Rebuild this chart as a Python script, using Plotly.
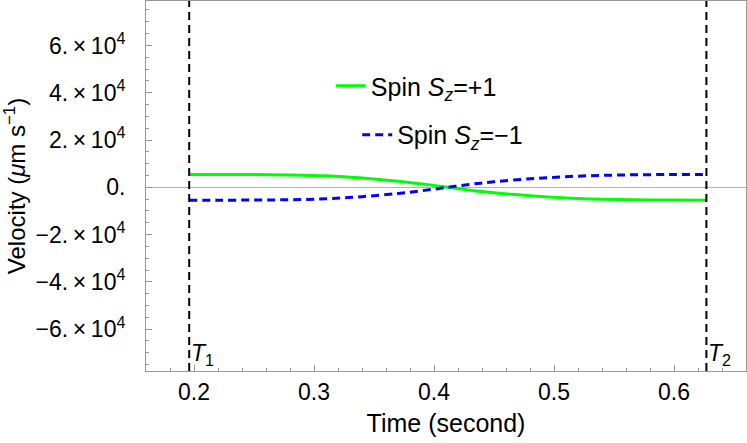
import plotly.graph_objects as go

# times (s) and velocities (um/s)
time = [0.196, 0.22, 0.25, 0.28, 0.31, 0.34, 0.37, 0.39, 0.41,
        0.43, 0.45, 0.48, 0.51, 0.54, 0.57, 0.60, 0.627]
v_up = [5450, 5440, 5400, 5250, 4850, 3950, 2600, 1450, 100,
        -1250, -2350, -3600, -4500, -5050, -5300, -5420, -5450]
v_down = [-5450, -5440, -5400, -5250, -4850, -3950, -2600, -1450, -100,
          1250, 2350, 3600, 4500, 5050, 5300, 5420, 5450]

T1 = 0.196
T2 = 0.627

xtick_vals = [0.2, 0.3, 0.4, 0.5, 0.6]
xtick_text = ['0.2', '0.3', '0.4', '0.5', '0.6']
ytick_vals = [-60000, -40000, -20000, 0, 20000, 40000, 60000]
ytick_text = ['−6.\u2009×\u200910<sup>4</sup>', '−4.\u2009×\u200910<sup>4</sup>',
              '−2.\u2009×\u200910<sup>4</sup>', '0.',
              '2.\u2009×\u200910<sup>4</sup>', '4.\u2009×\u200910<sup>4</sup>',
              '6.\u2009×\u200910<sup>4</sup>']

font = 'Liberation Sans, Arial, sans-serif'

fig = go.Figure()
fig.add_trace(go.Scatter(x=time, y=v_up, mode='lines', line=dict(color='#00ff00', width=3, shape='spline'),
                         name='Spin <i>S<sub>z</sub></i>=+1', legend='legend'))
fig.add_trace(go.Scatter(x=time, y=v_down, mode='lines',
                         line=dict(color='#0000ff', width=3, dash='8px,5px', shape='spline'),
                         name='Spin <i>S<sub>z</sub></i>=−1', legend='legend2'))

for t, lab in [(T1, '<i>T</i><sub>1</sub>'), (T2, '<i>T</i><sub>2</sub>')]:
    fig.add_vline(x=t, line=dict(color='black', width=2, dash='8px,5px'))
    fig.add_annotation(x=t, y=0.0, xref='x', yref='paper', text=lab, showarrow=False,
                       xanchor='left', yanchor='bottom', xshift=0,
                       font=dict(size=23, color='black', family=font))

axis_common = dict(showline=True, linecolor='#999999', linewidth=1, mirror=True,
                   showgrid=False, ticks='inside', ticklen=6, tickcolor='#999999',
                   automargin=False, tickfont=dict(size=23, color='black', family=font))

fig.update_layout(
    width=747, height=443,
    margin=dict(l=146, r=1, t=1, b=72),
    plot_bgcolor='white', paper_bgcolor='white',
    showlegend=True,
    font=dict(family=font, size=23, color='black'),
    xaxis=dict(range=[0.16, 0.66], tickvals=xtick_vals, ticktext=xtick_text,
               minor=dict(dtick=0.02, tick0=0.0, ticks='inside', ticklen=3, tickcolor='#999999'),
               title=dict(text='Time (second)', font=dict(size=25), standoff=10),
               ticklabelstandoff=0, zeroline=False, **axis_common),
    yaxis=dict(range=[-77700, 78800], tickvals=ytick_vals, ticktext=ytick_text,
               minor=dict(dtick=5000, tick0=0, ticks='inside', ticklen=3, tickcolor='#999999'),
               title=dict(text='Velocity (<i>μ</i>m s<sup>−1</sup>)', font=dict(size=24), standoff=3),
               ticklabelstandoff=15,
               zeroline=True, zerolinecolor='#b4b4b4', zerolinewidth=1, **axis_common),
    legend=dict(x=0.308, y=0.770, xanchor='left', yanchor='middle', bgcolor='rgba(0,0,0,0)',
                font=dict(size=25, family=font)),
    legend2=dict(x=0.352, y=0.638, xanchor='left', yanchor='middle', bgcolor='rgba(0,0,0,0)',
                 font=dict(size=25, family=font)),
)

fig.write_html('out.html', config={'displayModeBar': False},
               post_script="document.body.style.margin='0px';")
